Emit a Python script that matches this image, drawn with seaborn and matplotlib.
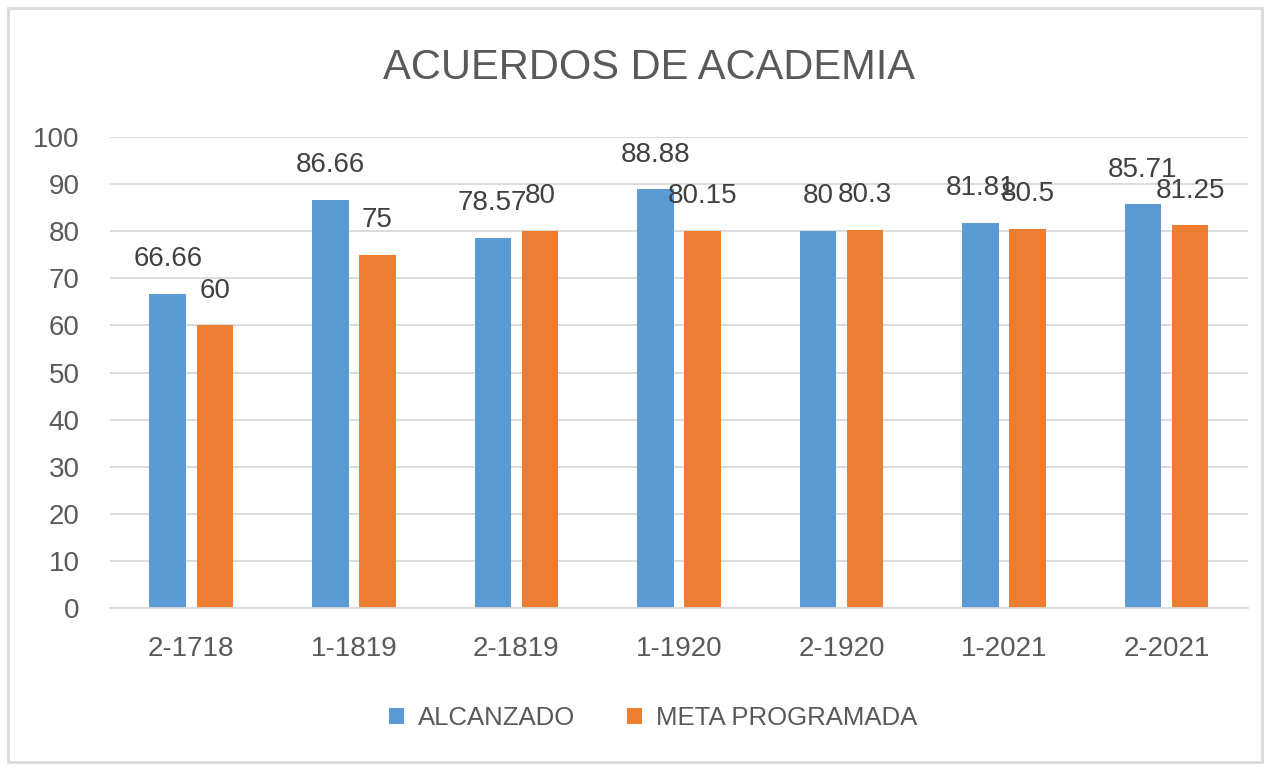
import matplotlib
matplotlib.use("Agg")
import matplotlib.pyplot as plt
from matplotlib.patches import Rectangle, Patch
import seaborn as sns
import pandas as pd

categories = ["2-1718", "1-1819", "2-1819", "1-1920", "2-1920", "1-2021", "2-2021"]
alcanzado = [66.66, 86.66, 78.57, 88.88, 80, 81.81, 85.71]
meta = [60, 75, 80, 80.15, 80.3, 80.5, 81.25]
series_names = ["ALCANZADO", "META PROGRAMADA"]
yticks = [0, 10, 20, 30, 40, 50, 60, 70, 80, 90, 100]

colors = ["#5B9BD5", "#ED7D31"]
text_color = "#595959"
grid_color = "#D9D9D9"

df = pd.DataFrame({
    "cat": categories * 2,
    "val": alcanzado + meta,
    "serie": [series_names[0]] * len(categories) + [series_names[1]] * len(categories),
})

sns.set_theme(style="white")
plt.rcParams["font.family"] = ["Liberation Sans", "DejaVu Sans"]

fig = plt.figure(figsize=(12.68, 7.68), dpi=100)
ax = fig.add_axes([0.0868, 0.2083, 0.984 - 0.0868, 0.8216 - 0.2083])

sns.barplot(data=df, x="cat", y="val", hue="serie", palette=colors,
            width=0.58, ax=ax, legend=False, saturation=1, errorbar=None)

# shrink bars to leave a gap between the pair
bw = 0.225
for p in ax.patches:
    c = p.get_x() + p.get_width() / 2
    p.set_x(c - bw / 2)
    p.set_width(bw)
    p.set_edgecolor("none")

# data labels
for cont in ax.containers:
    labels = [f"{v:g}" for v in cont.datavalues]
    for bar, lab in zip(cont, labels):
        ax.annotate(lab, (bar.get_x() + bar.get_width() / 2, bar.get_height()),
                    xytext=(0, 25), textcoords="offset points",
                    ha="center", va="center", fontsize=20, color="#404040")

ax.set_ylim(0, 100)
ax.set_xlim(-0.5, len(categories) - 0.5)
ax.set_yticks(yticks)
ax.yaxis.grid(True, color=grid_color, linewidth=1.3)
ax.set_axisbelow(True)
for s in ["left", "right", "top"]:
    ax.spines[s].set_visible(False)
ax.spines["bottom"].set_color(grid_color)
ax.spines["bottom"].set_linewidth(1.3)
ax.tick_params(axis="y", length=0, pad=22, labelsize=20, labelcolor=text_color)
ax.tick_params(axis="x", length=0, pad=20, labelsize=20, labelcolor=text_color)
ax.set_xlabel("")
ax.set_ylabel("")

fig.text(0.512, 0.911, "ACUERDOS DE ACADEMIA", ha="center", va="center",
         fontsize=30, color=text_color)

handles = [Patch(facecolor=c, edgecolor="none") for c in colors]
fig.legend(handles, series_names, loc="center", bbox_to_anchor=(0.515, 0.065),
           ncol=2, frameon=False, fontsize=18.5, labelcolor=text_color,
           handlelength=0.6, handleheight=0.6, handletextpad=0.55, columnspacing=2.0)

fig.patches.append(Rectangle((8 / 1268, 6 / 768), 1254 / 1268, 754 / 768,
                             transform=fig.transFigure, fill=False,
                             edgecolor=grid_color, linewidth=2))

fig.savefig("out.png", dpi=100, facecolor="white")
